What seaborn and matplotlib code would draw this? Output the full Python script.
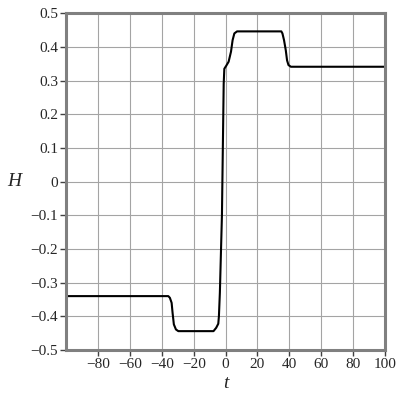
import numpy as np
import pandas as pd
import matplotlib
matplotlib.use("Agg")
import matplotlib.pyplot as plt
import seaborn as sns

# points
t_vals = [-100, -36.0, -35.0, -33.9, -33.3, -32.5, -31.2, -29.7, -7.6, -5.9, -4.6,
          -4.2, -3.6, -2.3, -1.2, -0.8, 0.4, 1.9, 3.4, 4.4, 5.5, 7.2,
          35.0, 35.7, 36.7, 37.8, 38.6, 39.5, 41.0, 100]
H_vals = [-0.340, -0.340, -0.345, -0.360, -0.390, -0.424, -0.439, -0.444, -0.444, -0.434, -0.422,
          -0.40, -0.33, -0.10, 0.29, 0.335, 0.344, 0.356, 0.386, 0.420, 0.440, 0.446,
          0.446, 0.440, 0.420, 0.390, 0.360, 0.346, 0.341, 0.341]

x_ticks = [-80, -60, -40, -20, 0, 20, 40, 60, 80, 100]
x_labels = ["\u221280", "\u221260", "\u221240", "\u221220", "0", "20", "40", "60", "80", "100"]
y_ticks = [-0.5, -0.4, -0.3, -0.2, -0.1, 0, 0.1, 0.2, 0.3, 0.4, 0.5]
y_labels = ["\u22120.5", "\u22120.4", "\u22120.3", "\u22120.2", "\u22120.1", "0",
            "0.1", "0.2", "0.3", "0.4", "0.5"]

df = pd.DataFrame({"t": t_vals, "H": H_vals})

sns.set_style("white")
plt.rcParams["font.family"] = ["Liberation Serif", "DejaVu Serif"]

fig = plt.figure(figsize=(4, 4), dpi=100)
ax = fig.add_axes([0.166, 0.125, 0.796, 0.842])

sns.lineplot(data=df, x="t", y="H", ax=ax, color="black", linewidth=1.5, sort=False)

ax.set_xlim(-100, 100)
ax.set_ylim(-0.5, 0.5)
ax.set_xticks(np.arange(-100, 101, 20), minor=True)
ax.grid(True, which="minor", axis="x", color="#a4a4a4", linewidth=0.8)
ax.set_xticks(x_ticks)
ax.set_xticklabels(x_labels)
ax.set_yticks(y_ticks)
ax.set_yticklabels(y_labels)
ax.grid(True, which="major", color="#a4a4a4", linewidth=0.8)
ax.set_axisbelow(True)
ax.tick_params(which="minor", length=0)
ax.tick_params(which="major", direction="out", length=4, width=1, color="#404040",
               labelsize=11, pad=2, bottom=True, left=True)

for s in ax.spines.values():
    s.set_color("#808080")
    s.set_linewidth(2.2)

ax.set_xlabel("t", fontsize=14, style="italic", labelpad=3)
ax.set_ylabel("H", fontsize=14, style="italic", rotation=0, labelpad=12, va="center")

fig.savefig("out.png", dpi=100)
